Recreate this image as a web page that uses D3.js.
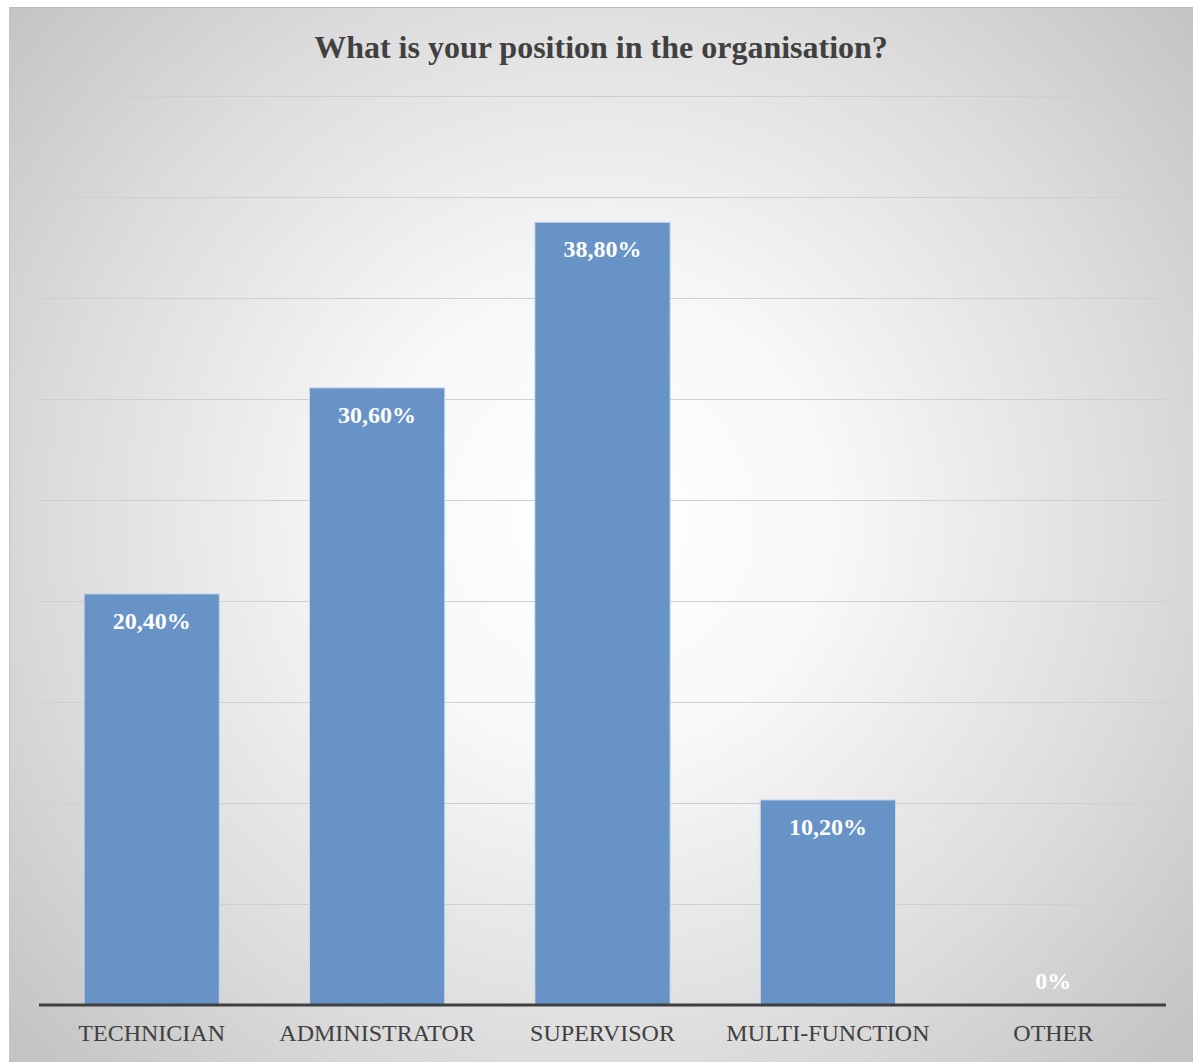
<!DOCTYPE html>
<html>
<head>
<meta charset="utf-8">
<script src="https://cdn.jsdelivr.net/npm/d3@7"></script>
<style>
  html, body { margin: 0; padding: 0; background: #ffffff; }
  svg { display: block; }
</style>
</head>
<body>
<svg id="chart" width="1193" height="1062"></svg>
<script>
// Survey answers: share of respondents per position
const categories = ["TECHNICIAN", "ADMINISTRATOR", "SUPERVISOR", "MULTI-FUNCTION", "OTHER"];
const values = [20.4, 30.6, 38.8, 10.2, 0];
const valueLabels = ["20,40%", "30,60%", "38,80%", "10,20%", "0%"];
const gridTicks = [0, 5, 10, 15, 20, 25, 30, 35, 40, 45];
const chartTitle = "What is your position in the organisation?";

const W = 1193, H = 1062;
const svg = d3.select("#chart");
const serif = "'Liberation Serif', 'Times New Roman', serif";

// Frame with a soft radial backdrop
const defs = svg.append("defs");
const grad = defs.append("radialGradient")
  .attr("id", "bg")
  .attr("gradientUnits", "userSpaceOnUse")
  .attr("cx", 600).attr("cy", 520).attr("r", 780);
grad.append("stop").attr("offset", "0%").attr("stop-color", "#ffffff");
grad.append("stop").attr("offset", "30%").attr("stop-color", "#f8f8f8");
grad.append("stop").attr("offset", "70%").attr("stop-color", "#dcdcdc");
grad.append("stop").attr("offset", "100%").attr("stop-color", "#c4c4c4");

const frame = { x: 9, y: 7, w: W - 9, h: H - 7 };
svg.append("rect")
  .attr("x", frame.x).attr("y", frame.y)
  .attr("width", frame.w).attr("height", frame.h)
  .attr("fill", "url(#bg)");
svg.append("line")
  .attr("x1", frame.x).attr("x2", W).attr("y1", frame.y + 0.5).attr("y2", frame.y + 0.5)
  .attr("stroke", "#bdbdbd").attr("stroke-width", 1);
svg.append("line")
  .attr("x1", frame.x + 0.5).attr("x2", frame.x + 0.5).attr("y1", frame.y).attr("y2", H)
  .attr("stroke", "#c6c6c6").attr("stroke-width", 1);

// Plot area
const plot = { left: 39, right: 1166, top: 97, bottom: 1006 };

const x = d3.scaleBand()
  .domain(categories)
  .range([plot.left, plot.right])
  .paddingInner(0.4)
  .paddingOuter(0.2);

const y = d3.scaleLinear()
  .domain([0, 45])
  .range([plot.bottom, plot.top]);

// Horizontal gridlines
svg.append("g")
  .selectAll("line")
  .data(gridTicks.filter(t => t > 0))
  .join("line")
  .attr("x1", plot.left).attr("x2", plot.right)
  .attr("y1", d => Math.round(y(d)) - 0.5)
  .attr("y2", d => Math.round(y(d)) - 0.5)
  .attr("stroke", "#cfcfcf")
  .attr("stroke-width", 1);

// Bars
const data = categories.map((c, i) => ({ c, v: values[i], label: valueLabels[i] }));
svg.append("g")
  .selectAll("rect")
  .data(data.filter(d => d.v > 0))
  .join("rect")
  .attr("x", d => x(d.c))
  .attr("y", d => y(d.v))
  .attr("width", x.bandwidth())
  .attr("height", d => y(0) - y(d.v))
  .attr("fill", "#6793c6")
  .attr("stroke", "#c9d8ec")
  .attr("stroke-width", 1);

// Category axis
const xAxis = svg.append("g")
  .attr("transform", `translate(0,${plot.bottom - 1})`)
  .call(d3.axisBottom(x).tickSize(0).tickPadding(19));
xAxis.select(".domain")
  .attr("stroke", "#404040")
  .attr("stroke-width", 3)
  .attr("d", `M${plot.left},0H${plot.right}`);
xAxis.selectAll("text")
  .attr("font-family", serif)
  .attr("font-size", 24)
  .attr("fill", "#404040");

// Value labels
svg.append("g")
  .selectAll("text")
  .data(data)
  .join("text")
  .attr("x", d => x(d.c) + x.bandwidth() / 2)
  .attr("y", d => d.v > 0 ? y(d.v) + 35 : y(0) - 17)
  .attr("text-anchor", "middle")
  .attr("font-family", serif)
  .attr("font-weight", "bold")
  .attr("font-size", 24)
  .attr("fill", "#ffffff")
  .text(d => d.label);

// Title
svg.append("text")
  .attr("x", (frame.x + W) / 2)
  .attr("y", 58)
  .attr("text-anchor", "middle")
  .attr("font-family", serif)
  .attr("font-weight", "bold")
  .attr("font-size", 32)
  .attr("fill", "#404040")
  .text(chartTitle);
</script>
</body>
</html>
